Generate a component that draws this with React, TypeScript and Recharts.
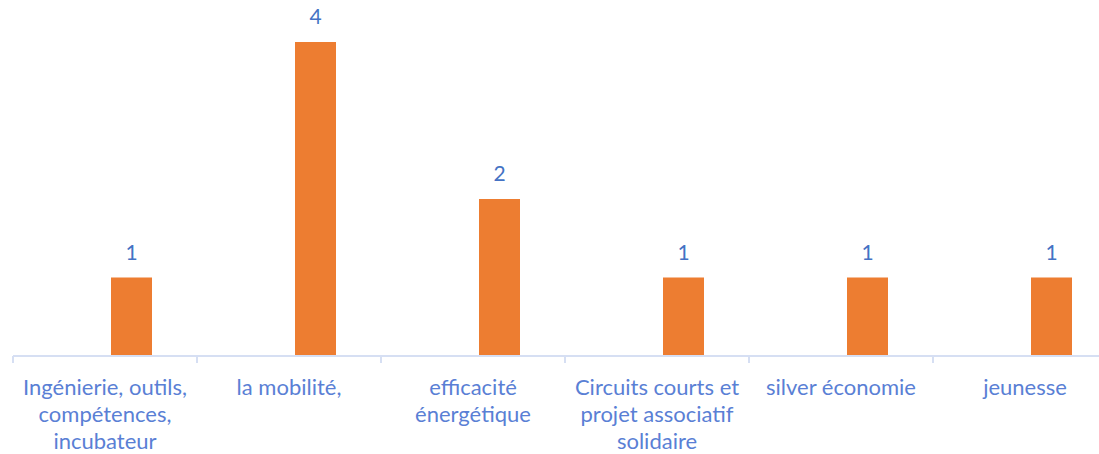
import React from "react";
import { BarChart, Bar, XAxis, YAxis, LabelList } from "recharts";

const categories: string[] = [
  "Ingénierie, outils,\ncompétences,\nincubateur",
  "la mobilité,",
  "efficacité\nénergétique",
  "Circuits courts et\nprojet associatif\nsolidaire",
  "silver économie",
  "jeunesse",
];
const seriesEmpty: (number | null)[] = [null, null, null, null, null, null];
const seriesValues: number[] = [1, 4, 2, 1, 1, 1];

const data = categories.map((c, i) => ({
  name: c,
  empty: seriesEmpty[i],
  value: seriesValues[i],
}));

const WIDTH = 1130;
const HEIGHT = 454;
const MARGIN = { top: 42, right: 13, left: 13, bottom: 0 };
const BAND = (WIDTH - MARGIN.left - MARGIN.right) / categories.length;
const AXIS_COLOR = "#D6DFF3";
const TEXT_COLOR = "#5A7FD5";
const FONT = "Lato, 'Open Sans', sans-serif";

const CategoryTick = (props: any) => {
  const { x, y, payload } = props;
  const lines = String(payload.value).split("\n");
  const axisY = y - 9;
  return (
    <g>
      <line x1={x - BAND / 2} x2={x - BAND / 2} y1={axisY} y2={axisY + 7} stroke={AXIS_COLOR} strokeWidth={2} />
      <line x1={x + BAND / 2} x2={x + BAND / 2} y1={axisY} y2={axisY + 7} stroke={AXIS_COLOR} strokeWidth={2} />
      <text x={x} y={y} textAnchor="middle" fill={TEXT_COLOR} fontFamily={FONT} fontSize={22}>
        {lines.map((l, i) => (
          <tspan key={i} x={x} dy={i === 0 ? 30 : 27}>
            {l}
          </tspan>
        ))}
      </text>
    </g>
  );
};

export default function App() {
  return (
    <div
      style={{
        position: "absolute",
        left: 0,
        top: 0,
        width: 1099,
        height: 454,
        overflow: "hidden",
        background: "#fff",
      }}
    >
      <BarChart width={WIDTH} height={HEIGHT} data={data} margin={MARGIN} barGap={12}>
        <XAxis
          dataKey="name"
          interval={0}
          axisLine={{ stroke: AXIS_COLOR, strokeWidth: 2 }}
          tickLine={false}
          tickSize={7}
          tickMargin={2}
          tick={<CategoryTick />}
          height={98}
        />
        <YAxis hide domain={[0, 4]} />
        <Bar dataKey="empty" fill="#4472C4" barSize={41} isAnimationActive={false} />
        <Bar dataKey="value" fill="#ED7D31" barSize={41} isAnimationActive={false}>
          <LabelList
            dataKey="value"
            position="top"
            offset={18}
            fill="#4472C4"
            fontFamily={FONT}
            fontSize={21}
          />
        </Bar>
      </BarChart>
    </div>
  );
}
